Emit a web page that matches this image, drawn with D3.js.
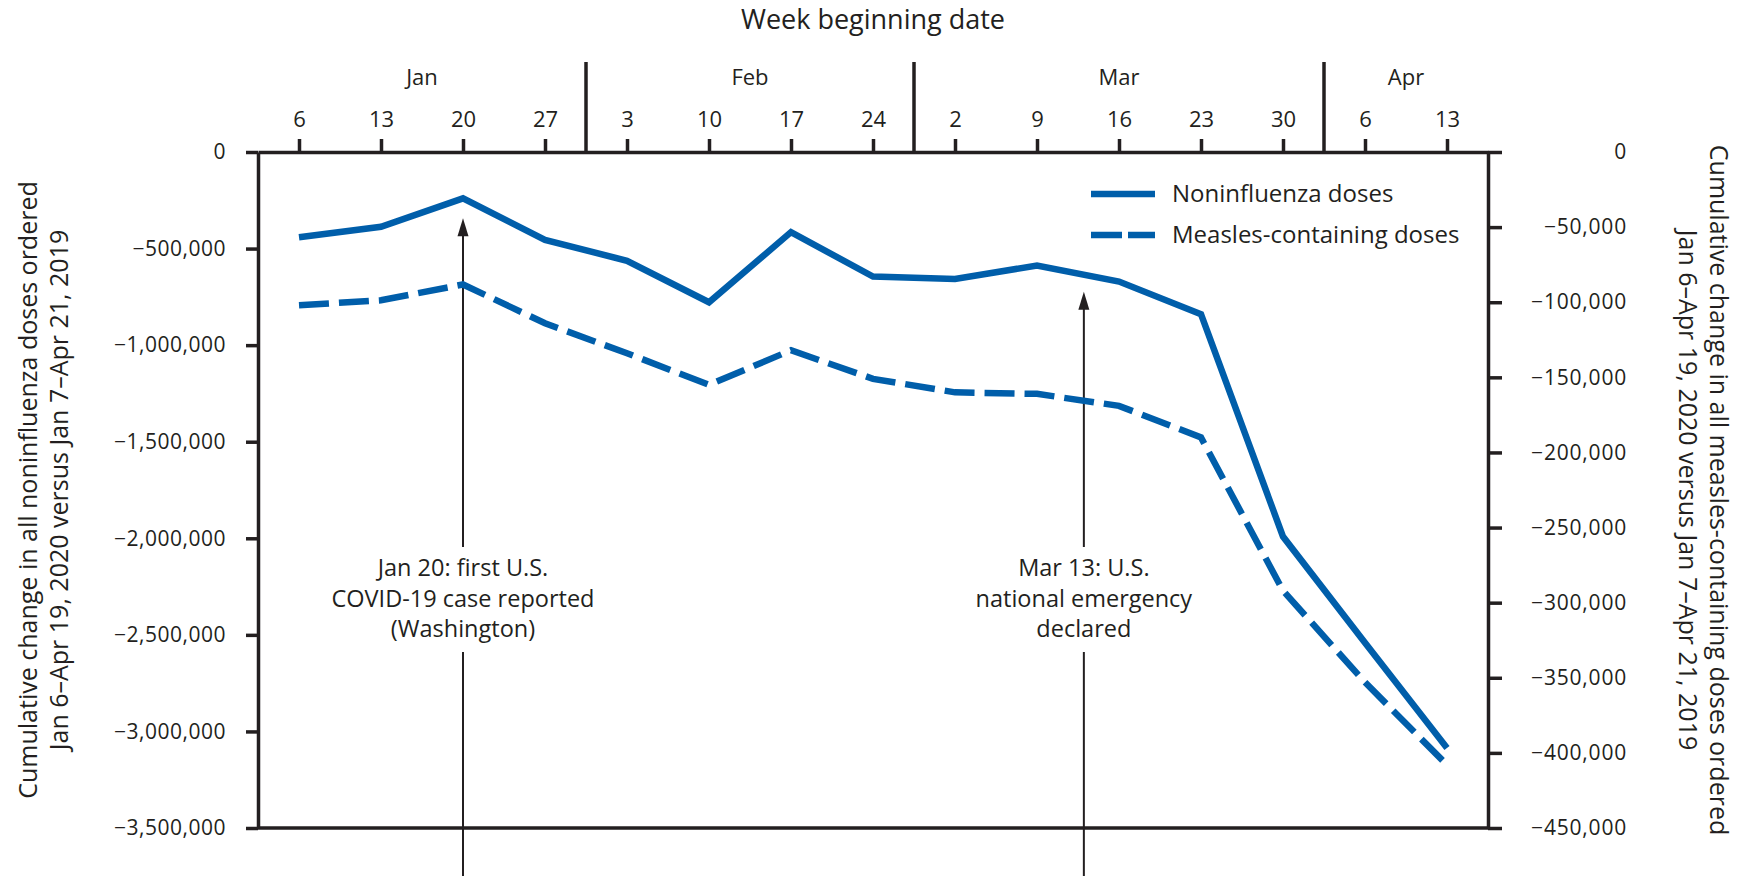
<!DOCTYPE html>
<html>
<head>
<meta charset="utf-8">
<script src="https://cdn.jsdelivr.net/npm/d3@7"></script>
<style>
  body { margin: 0; background: #fff; }
  svg { display: block; font-family: 'Open Sans', sans-serif; }
</style>
</head>
<body>
<svg width="1737" height="876"></svg>
<script>
// week beginning dates (Jan 6 - Apr 13, 2020)
const weekLabels = ['6', '13', '20', '27', '3', '10', '17', '24', '2', '9', '16', '23', '30', '6', '13'];
const months = ['Jan', 'Feb', 'Mar', 'Apr'];
const monthStart = [0, 4, 8, 13]; // index of first week in each month

// cumulative change, 2020 vs 2019
const noninfluenza = [-441000, -387000, -240000, -455000, -563000, -778000, -415000, -645000,
  -657000, -588000, -671000, -840000, -1991000, -2541000, -3086000];
const measles = [-102000, -98700, -88200, -114000, -134000, -155000, -132000, -151000,
  -160000, -161000, -169000, -190000, -292000, -353000, -408000];

const leftTicks = [0, -500000, -1000000, -1500000, -2000000, -2500000, -3000000, -3500000];
const rightTicks = [0, -50000, -100000, -150000, -200000, -250000, -300000, -350000, -400000, -450000];

// annotations: week position (fractional index) and text lines
const notes = [
  { pos: 2, lines: ['Jan 20: first U.S.', 'COVID-19 case reported', '(Washington)'], tipValue: -240000 },
  { pos: 9 + 4 / 7, lines: ['Mar 13: U.S.', 'national emergency', 'declared'], tipValue: -620000 }
];

const ink = '#231f20';
const blue = '#005eaa';

const svg = d3.select('svg');
const plotL = 258, plotR = 1488, plotT = 152, plotB = 828;

const x = d3.scaleLinear().domain([-0.5, weekLabels.length - 0.5]).range([plotL, plotR]);
const yL = d3.scaleLinear().domain([0, -3500000]).range([plotT, plotB]);
const yR = d3.scaleLinear().domain([0, -450000]).range([plotT, plotB]);
const fmt = (v) => (v < 0 ? '\u2212' : '') + d3.format(',')(Math.abs(v));

// top axis with week ticks
const xAxis = svg.append('g')
  .attr('transform', `translate(0,${plotT})`)
  .call(d3.axisTop(x)
    .tickValues(d3.range(weekLabels.length))
    .tickFormat((i) => weekLabels[i])
    .tickSize(13)
    .tickSizeOuter(0)
    .tickPadding(12));
xAxis.selectAll('text').attr('font-size', 22).attr('fill', ink).attr('font-family', 'Open Sans');

// bottom frame line
svg.append('line')
  .attr('x1', plotL).attr('x2', plotR)
  .attr('y1', plotB).attr('y2', plotB);

// month separators and labels
monthStart.slice(1).forEach((s) => {
  svg.append('line')
    .attr('x1', x(s - 0.5)).attr('x2', x(s - 0.5))
    .attr('y1', 62).attr('y2', plotT);
});
svg.append('g')
  .selectAll('text')
  .data(months)
  .enter()
  .append('text')
  .attr('x', (d, i) => {
    const a = x(monthStart[i] - 0.5);
    const b = i < months.length - 1 ? x(monthStart[i + 1] - 0.5) : plotR;
    return (a + b) / 2;
  })
  .attr('y', 85)
  .attr('text-anchor', 'middle')
  .attr('font-size', 22)
  .attr('fill', ink)
  .text((d) => d);

svg.append('text')
  .attr('x', (plotL + plotR) / 2)
  .attr('y', 29)
  .attr('text-anchor', 'middle')
  .attr('font-size', 27)
  .attr('fill', ink)
  .text('Week beginning date');

// left axis
const leftAxis = svg.append('g')
  .attr('transform', `translate(${plotL},0)`)
  .call(d3.axisLeft(yL).tickValues(leftTicks).tickFormat(fmt).tickSize(12).tickSizeOuter(0).tickPadding(20));
leftAxis.selectAll('text').attr('font-size', 21).attr('fill', ink).attr('font-family', 'Open Sans').attr('letter-spacing', 0.5);

// right axis, labels right aligned
const rightAxis = svg.append('g')
  .attr('transform', `translate(${plotR},0)`)
  .call(d3.axisRight(yR).tickValues(rightTicks).tickFormat(fmt).tickSize(14).tickSizeOuter(0));
rightAxis.selectAll('text')
  .attr('x', 139)
  .attr('text-anchor', 'end')
  .attr('font-size', 21)
  .attr('fill', ink)
  .attr('font-family', 'Open Sans')
  .attr('letter-spacing', 0.8);

svg.selectAll('.domain, .tick line, line').attr('stroke', ink).attr('stroke-width', 3.5);

// y axis titles
const leftTitle = ['Cumulative change in all noninfluenza doses ordered', 'Jan 6\u2013Apr 19, 2020 versus Jan 7\u2013Apr 21, 2019'];
const rightTitle = ['Cumulative change in all measles-containing doses ordered', 'Jan 6\u2013Apr 19, 2020 versus Jan 7\u2013Apr 21, 2019'];
leftTitle.forEach((t, i) => {
  svg.append('text')
    .attr('transform', `translate(${37 + i * 31},${(plotT + plotB) / 2}) rotate(-90)`)
    .attr('text-anchor', 'middle')
    .attr('font-size', 25)
    .attr('fill', ink)
    .text(t);
});
rightTitle.forEach((t, i) => {
  svg.append('text')
    .attr('transform', `translate(${1710 - i * 31},${(plotT + plotB) / 2}) rotate(90)`)
    .attr('text-anchor', 'middle')
    .attr('font-size', 25)
    .attr('fill', ink)
    .text(t);
});

// annotation arrows
notes.forEach((n) => {
  const ax = x(n.pos);
  const tip = yL(n.tipValue) + 20;
  const g = svg.append('g');
  g.append('line').attr('x1', ax).attr('x2', ax).attr('y1', tip + 10).attr('y2', 547);
  g.append('line').attr('x1', ax).attr('x2', ax).attr('y1', 652).attr('y2', 876);
  g.selectAll('line').attr('stroke', ink).attr('stroke-width', 2);
  g.append('path')
    .attr('d', `M${ax},${tip}L${ax - 5.5},${tip + 18}L${ax + 5.5},${tip + 18}Z`)
    .attr('fill', ink);
  g.selectAll('text')
    .data(n.lines)
    .enter()
    .append('text')
    .attr('x', ax)
    .attr('y', (d, i) => 576 + i * 30.5)
    .attr('text-anchor', 'middle')
    .attr('font-size', 23.5)
    .attr('fill', ink)
    .text((d) => d);
});

// data lines
const lineL = d3.line().x((d, i) => x(i)).y((d) => yL(d));
const lineR = d3.line().x((d, i) => x(i)).y((d) => yR(d));

svg.append('path')
  .datum(measles)
  .attr('d', lineR)
  .attr('fill', 'none')
  .attr('stroke', blue)
  .attr('stroke-width', 6.5)
  .attr('stroke-dasharray', '30,10');

svg.append('path')
  .datum(noninfluenza)
  .attr('d', lineL)
  .attr('fill', 'none')
  .attr('stroke', blue)
  .attr('stroke-width', 6.5)
  .attr('stroke-linejoin', 'miter');

// legend
const legend = svg.append('g').attr('transform', 'translate(1091,194)');
legend.append('line').attr('x1', 0).attr('x2', 64).attr('y1', 0).attr('y2', 0);
legend.append('line').attr('x1', 0).attr('x2', 64).attr('y1', 41).attr('y2', 41)
  .attr('stroke-dasharray', '31,6');
legend.selectAll('line').attr('stroke', blue).attr('stroke-width', 6.5);
legend.selectAll('text')
  .data(['Noninfluenza doses', 'Measles-containing doses'])
  .enter()
  .append('text')
  .attr('x', 81)
  .attr('y', (d, i) => 8 + i * 41)
  .attr('font-size', 24)
  .attr('fill', ink)
  .text((d) => d);
</script>
</body>
</html>
